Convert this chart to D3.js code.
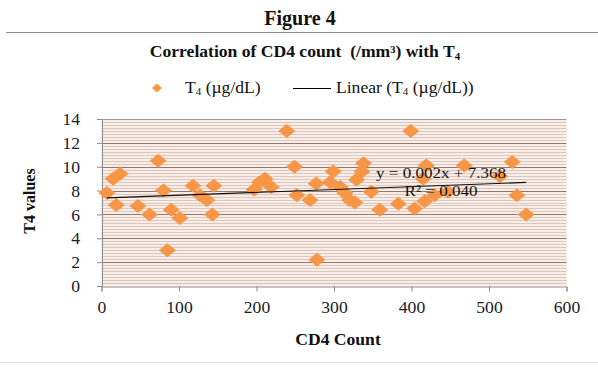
<!DOCTYPE html>
<html>
<head>
<meta charset="utf-8">
<style>
body { margin: 0; background: #fff; }
text { font-family: "Liberation Serif", "Times New Roman", serif; fill: #111; }
.tick text { font-size: 16px; fill: #1b1b2b; }
.title { font-weight: bold; }
</style>
</head>
<body>
<script src="https://cdn.jsdelivr.net/npm/d3@7"></script>
<script>

// CD4 count vs T4 readings
var cd4 = [7, 15, 24, 19, 47, 62, 73, 80, 85, 90, 101, 118, 127, 136, 145, 143,
           197, 204, 211, 219, 239, 249, 252, 269, 277, 278, 295, 299, 308, 314,
           320, 327, 329, 336, 338, 348, 359, 383, 399, 404, 415, 417, 419, 430,
           447, 468, 514, 530, 536, 548];
var t4 = [7.8, 9.0, 9.4, 6.8, 6.7, 6.0, 10.5, 8.0, 3.0, 6.4, 5.7, 8.4, 7.6, 7.2, 8.4, 6.0,
          8.1, 8.7, 9.0, 8.3, 13.0, 10.0, 7.6, 7.2, 8.6, 2.2, 8.7, 9.6, 8.3, 7.8,
          7.2, 7.0, 8.9, 9.6, 10.3, 7.9, 6.4, 6.9, 13.0, 6.5, 9.0, 7.1, 10.1, 7.6,
          7.9, 10.1, 9.2, 10.4, 7.6, 6.0];
var xTicks = [0, 100, 200, 300, 400, 500, 600];
var yTicks = [0, 2, 4, 6, 8, 10, 12, 14];
// trend line as printed on the chart (slope)
var trendSlope = 0.0024, trendIntercept = 7.368;

var width = 598, height = 367;
var sx = 1.1; // the source image text is a bit wide
var svg = d3.select("body").append("svg")
    .attr("width", width)
    .attr("height", height);

var x = d3.scaleLinear().domain([0, 600]).range([101.5, 566.5]);
var y = d3.scaleLinear().domain([0, 14]).range([286, 119]);

// text stretched horizontally around its own x
function wide(t, cx, cy) {
  return t.attr("x", 0).attr("y", 0)
    .attr("transform", "translate(" + cx + "," + cy + ") scale(" + sx + ",1)");
}

// heading + rule
svg.append("text").attr("class", "title")
    .attr("x", 300).attr("y", 25)
    .attr("text-anchor", "middle")
    .attr("font-size", "20px")
    .text("Figure 4");
svg.append("line")
    .attr("x1", 6).attr("x2", 598).attr("y1", 32.5).attr("y2", 32.5)
    .attr("stroke", "#8a8a8a").attr("stroke-width", 1.2);

var ttl = wide(svg.append("text").attr("class", "title"), 305, 57)
    .attr("text-anchor", "middle")
    .attr("font-size", "16px");
ttl.append("tspan").text("Correlation of CD4 count \u00a0(/mm\u00b3) with T");
ttl.append("tspan").attr("font-size", "10px").attr("dy", 3).text("4");

// legend
var leg = svg.append("g");
leg.append("path")
    .attr("d", "M0,-4.5L5,0L0,4.5L-5,0Z")
    .attr("transform", "translate(157,88)")
    .attr("fill", "#f79646");
var lt1 = wide(leg.append("text"), 185, 93).attr("font-size", "16px");
lt1.append("tspan").text("T");
lt1.append("tspan").attr("font-size", "10px").attr("dy", 2).text("4");
lt1.append("tspan").attr("dy", -2).text(" (\u00b5g/dL)");
leg.append("line")
    .attr("x1", 293).attr("x2", 331).attr("y1", 88.5).attr("y2", 88.5)
    .attr("stroke", "#000").attr("stroke-width", 1);
var lt2 = wide(leg.append("text"), 336, 93).attr("font-size", "16px");
lt2.append("tspan").text("Linear (T");
lt2.append("tspan").attr("font-size", "10px").attr("dy", 2).text("4");
lt2.append("tspan").attr("dy", -2).text(" (\u00b5g/dL))");

// plot background
svg.append("rect")
    .attr("x", x(0)).attr("y", y(14))
    .attr("width", x(600) - x(0)).attr("height", y(0) - y(14))
    .attr("fill", "#fbece5");

// minor grid every 0.25
var minor = d3.range(0, 14.01, 0.25).filter(function(v) { return v % 2 != 0; });
svg.append("g").selectAll("line")
    .data(minor).enter().append("line")
    .attr("x1", x(0)).attr("x2", x(600))
    .attr("y1", d => Math.round(y(d)) + 0.5).attr("y2", d => Math.round(y(d)) + 0.5)
    .attr("stroke", "#d8c8c2").attr("stroke-width", 1);

// major grid
svg.append("g").selectAll("line")
    .data(yTicks.slice(1)).enter().append("line")
    .attr("x1", x(0)).attr("x2", x(600))
    .attr("y1", d => Math.round(y(d)) + 0.5).attr("y2", d => Math.round(y(d)) + 0.5)
    .attr("stroke", d => d == 14 ? "#9a9a9a" : "#8e7a74").attr("stroke-width", 1);

// axes
var xAxis = svg.append("g")
    .attr("transform", "translate(0," + (y(0) + 0.5) + ")")
    .call(d3.axisBottom(x).tickValues(xTicks).tickSize(5).tickPadding(10));
var yAxis = svg.append("g")
    .attr("transform", "translate(" + (x(0) + 0.5) + ",0)")
    .call(d3.axisLeft(y).tickValues(yTicks).tickSize(5).tickPadding(15));
[xAxis, yAxis].forEach(function(a) {
  a.select(".domain").attr("stroke", "#8c8c8c");
  a.selectAll(".tick line").attr("stroke", "#8c8c8c");
  a.selectAll(".tick text").attr("font-family", null).attr("font-size", null)
    .attr("transform", "scale(" + sx + ",1)");
});
yAxis.selectAll(".tick text").attr("dy", "0.35em");

// points
svg.append("g").selectAll("path")
    .data(cd4.map((c, i) => ({ c: c, t: t4[i] })))
    .enter().append("path")
    .attr("d", "M0,-7L8.5,0L0,7L-8.5,0Z")
    .attr("transform", d => "translate(" + x(d.c) + "," + y(d.t) + ")")
    .attr("fill", "#f79646");

// trendline
var xs = d3.extent(cd4);
svg.append("line")
    .attr("x1", x(xs[0])).attr("x2", x(xs[1]))
    .attr("y1", y(trendIntercept + trendSlope * xs[0]))
    .attr("y2", y(trendIntercept + trendSlope * xs[1]))
    .attr("stroke", "#111").attr("stroke-width", 1.2);

// equation label
wide(svg.append("text"), 441, 178).attr("text-anchor", "middle")
    .attr("font-size", "15.5px").attr("fill", "#222")
    .text("y = 0.002x + 7.368");
wide(svg.append("text"), 441, 196).attr("text-anchor", "middle")
    .attr("font-size", "15.5px").attr("fill", "#222")
    .text("R\u00b2 = 0.040");

// axis titles
wide(svg.append("text").attr("class", "title"), 338, 345)
    .attr("text-anchor", "middle")
    .attr("font-size", "16px")
    .text("CD4 Count");
svg.append("text").attr("class", "title")
    .attr("transform", "translate(35,201) rotate(-90)")
    .attr("text-anchor", "middle")
    .attr("font-size", "16px")
    .text("T4 values");

// bottom frame line
svg.append("line")
    .attr("x1", 0).attr("x2", 598).attr("y1", 362.5).attr("y2", 362.5)
    .attr("stroke", "#e2e2e2");

</script>
</body>
</html>
